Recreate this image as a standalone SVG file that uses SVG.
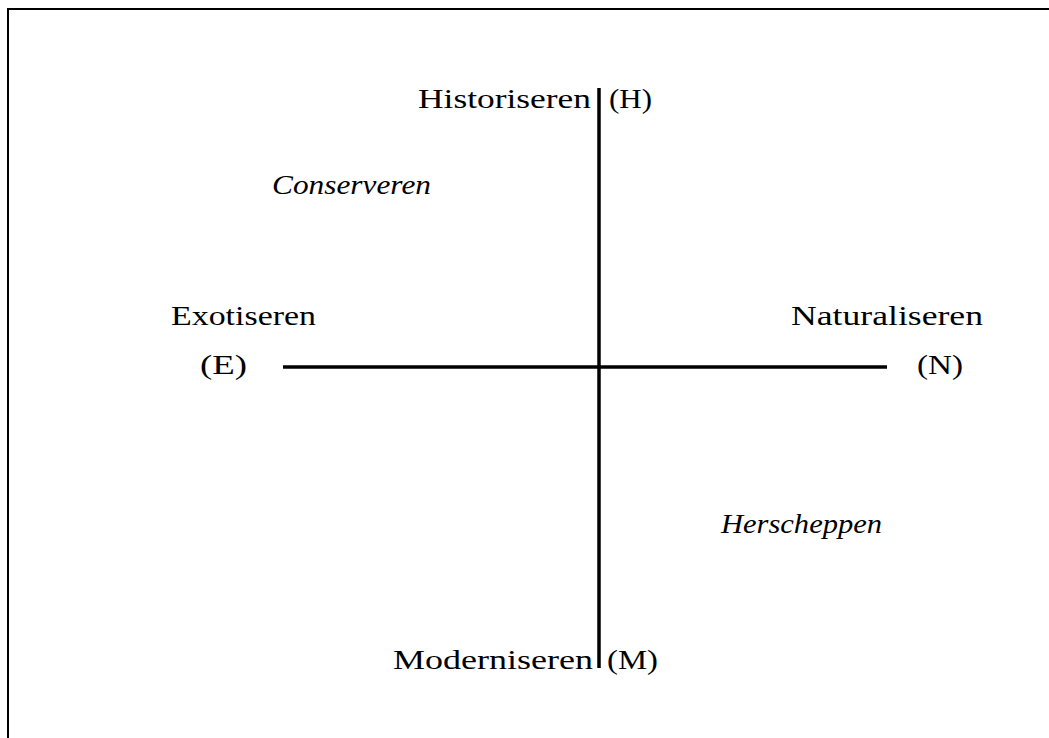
<svg xmlns="http://www.w3.org/2000/svg" width="1049" height="738" viewBox="0 0 1049 738">
<style>
.t{font-family:"Liberation Serif","Times New Roman",serif;font-size:28px;fill:#000}
.i{font-style:italic}
.ax{stroke:#000;stroke-width:3.5;fill:none}
.fr{stroke:#000;stroke-width:2;fill:none}
</style>
<rect width="1049" height="738" fill="#fff"/>
<path class="fr" d="M8,738 V9 H1049"/>
<g id="connectors">
<line class="ax" x1="599" y1="88" x2="599" y2="668"/>
<line class="ax" x1="283" y1="367" x2="887" y2="367"/>
</g>
<g id="node-H">
<text class="t" x="418" y="108" textLength="173" lengthAdjust="spacingAndGlyphs">Historiseren</text>
<text class="t" x="609" y="108" textLength="43" lengthAdjust="spacingAndGlyphs">(H)</text>
</g>
<g id="node-M">
<text class="t" x="393" y="669" textLength="200" lengthAdjust="spacingAndGlyphs">Moderniseren</text>
<text class="t" x="607" y="669" textLength="51" lengthAdjust="spacingAndGlyphs">(M)</text>
</g>
<g id="node-E">
<text class="t" x="171" y="325" textLength="145" lengthAdjust="spacingAndGlyphs">Exotiseren</text>
<text class="t" x="200" y="374" textLength="47" lengthAdjust="spacingAndGlyphs">(E)</text>
</g>
<g id="node-N">
<text class="t" x="791" y="325" textLength="192" lengthAdjust="spacingAndGlyphs">Naturaliseren</text>
<text class="t" x="917" y="374" textLength="46" lengthAdjust="spacingAndGlyphs">(N)</text>
</g>
<g id="node-conserveren">
<text class="t i" x="272" y="194" textLength="159" lengthAdjust="spacingAndGlyphs">Conserveren</text>
</g>
<g id="node-herscheppen">
<text class="t i" x="721" y="533" textLength="161" lengthAdjust="spacingAndGlyphs">Herscheppen</text>
</g>
</svg>
